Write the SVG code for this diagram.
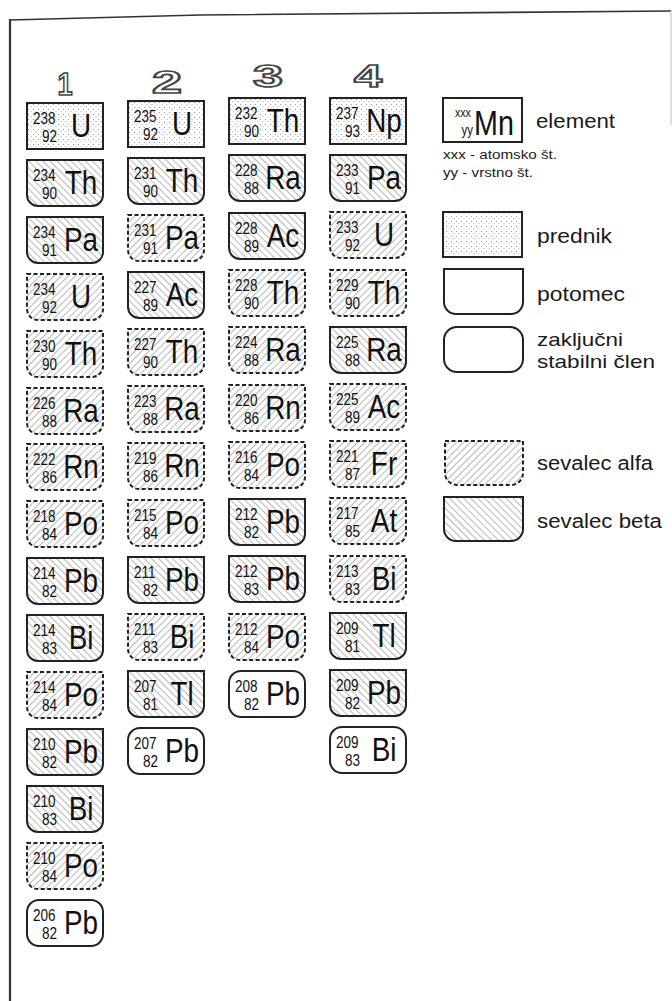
<svg xmlns="http://www.w3.org/2000/svg" width="672" height="1001" viewBox="0 0 672 1001">
<defs>
<pattern id="stip" width="5" height="5" patternUnits="userSpaceOnUse">
<rect width="5" height="5" fill="#fff"/>
<rect x="1" y="1" width="1" height="1" fill="#9a9a9a"/>
<rect x="3.5" y="3" width="1" height="1" fill="#b5b5b5"/>
</pattern>
<pattern id="ha" width="5" height="5" patternUnits="userSpaceOnUse" patternTransform="rotate(45)">
<rect width="5" height="5" fill="#fff"/>
<rect x="0" y="0" width="0.8" height="5" fill="#a8a8a8"/>
</pattern>
<pattern id="hb" width="5" height="5" patternUnits="userSpaceOnUse" patternTransform="rotate(-45)">
<rect width="5" height="5" fill="#fff"/>
<rect x="0" y="0" width="0.8" height="5" fill="#a8a8a8"/>
</pattern>
<path id="pot" d="M0 0H76V35A11 11 0 0 1 65 46H11A11 11 0 0 1 0 35Z"/>
<rect id="box" width="76" height="46"/>
<rect id="stb" width="76" height="46" rx="12" ry="12"/>
</defs>
<style>
.pred{fill:url(#stip);stroke:#222;stroke-width:2}
.alpha{fill:url(#ha);stroke:#222;stroke-width:2;stroke-dasharray:4 2.5}
.beta{fill:url(#hb);stroke:#222;stroke-width:2}
.stab{fill:#fff;stroke:#222;stroke-width:2}
.plain{fill:#fff;stroke:#222;stroke-width:2}
text{font-family:"Liberation Sans",Arial,sans-serif;fill:#111}
.m{font-size:16.5px}
.z{font-size:16.5px;text-anchor:end}
.s{font-size:34px;text-anchor:middle}
.lg{font-size:20px;fill:#1a1a1a}
.lg2{font-size:19px;fill:#1a1a1a}
.sm{font-size:12px;fill:#1a1a1a}
.hd{font-weight:bold;font-size:32px;fill:#fff;stroke:#444;stroke-width:1.7;text-anchor:middle}
</style>
<rect width="672" height="1001" fill="#fff"/>
<g id="frame" fill="none">
<polyline points="10,20 200,15 671,11" stroke="#333" stroke-width="1.6"/>
<line x1="10" y1="19" x2="10" y2="1001" stroke="#333" stroke-width="2.2"/>
<line x1="671" y1="11" x2="671" y2="125" stroke="#bbb" stroke-width="1"/>
</g>
<g id="headers">
<text class="hd" x="65" y="95" textLength="15" lengthAdjust="spacingAndGlyphs">1</text>
<text class="hd" x="167" y="93" textLength="30" lengthAdjust="spacingAndGlyphs">2</text>
<text class="hd" x="268" y="87" textLength="30" lengthAdjust="spacingAndGlyphs">3</text>
<text class="hd" x="368" y="87" textLength="28" lengthAdjust="spacingAndGlyphs">4</text>
</g>
<g id="connectors"></g>
<!-- Column 1 -->
<g id="c1-U238" transform="translate(27,103)"><use href="#box" class="pred"/><g transform="scale(.82,1)"><text class="m" x="7.3" y="21">238</text><text class="z" x="36.6" y="39.5">92</text><text class="s" x="65.9" y="34">U</text></g></g>
<g id="c1-Th234" transform="translate(27,160)"><use href="#pot" class="beta"/><g transform="scale(.82,1)"><text class="m" x="7.3" y="21">234</text><text class="z" x="36.6" y="39.5">90</text><text class="s" x="65.9" y="34">Th</text></g></g>
<g id="c1-Pa234" transform="translate(27,217)"><use href="#pot" class="beta"/><g transform="scale(.82,1)"><text class="m" x="7.3" y="21">234</text><text class="z" x="36.6" y="39.5">91</text><text class="s" x="65.9" y="34">Pa</text></g></g>
<g id="c1-U234" transform="translate(27,274)"><use href="#pot" class="alpha"/><g transform="scale(.82,1)"><text class="m" x="7.3" y="21">234</text><text class="z" x="36.6" y="39.5">92</text><text class="s" x="65.9" y="34">U</text></g></g>
<g id="c1-Th230" transform="translate(27,331)"><use href="#pot" class="alpha"/><g transform="scale(.82,1)"><text class="m" x="7.3" y="21">230</text><text class="z" x="36.6" y="39.5">90</text><text class="s" x="65.9" y="34">Th</text></g></g>
<g id="c1-Ra226" transform="translate(27,388)"><use href="#pot" class="alpha"/><g transform="scale(.82,1)"><text class="m" x="7.3" y="21">226</text><text class="z" x="36.6" y="39.5">88</text><text class="s" x="65.9" y="34">Ra</text></g></g>
<g id="c1-Rn222" transform="translate(27,444)"><use href="#pot" class="alpha"/><g transform="scale(.82,1)"><text class="m" x="7.3" y="21">222</text><text class="z" x="36.6" y="39.5">86</text><text class="s" x="65.9" y="34">Rn</text></g></g>
<g id="c1-Po218" transform="translate(27,501)"><use href="#pot" class="alpha"/><g transform="scale(.82,1)"><text class="m" x="7.3" y="21">218</text><text class="z" x="36.6" y="39.5">84</text><text class="s" x="65.9" y="34">Po</text></g></g>
<g id="c1-Pb214" transform="translate(27,558)"><use href="#pot" class="beta"/><g transform="scale(.82,1)"><text class="m" x="7.3" y="21">214</text><text class="z" x="36.6" y="39.5">82</text><text class="s" x="65.9" y="34">Pb</text></g></g>
<g id="c1-Bi214" transform="translate(27,615)"><use href="#pot" class="beta"/><g transform="scale(.82,1)"><text class="m" x="7.3" y="21">214</text><text class="z" x="36.6" y="39.5">83</text><text class="s" x="65.9" y="34">Bi</text></g></g>
<g id="c1-Po214" transform="translate(27,672)"><use href="#pot" class="alpha"/><g transform="scale(.82,1)"><text class="m" x="7.3" y="21">214</text><text class="z" x="36.6" y="39.5">84</text><text class="s" x="65.9" y="34">Po</text></g></g>
<g id="c1-Pb210" transform="translate(27,729)"><use href="#pot" class="beta"/><g transform="scale(.82,1)"><text class="m" x="7.3" y="21">210</text><text class="z" x="36.6" y="39.5">82</text><text class="s" x="65.9" y="34">Pb</text></g></g>
<g id="c1-Bi210" transform="translate(27,786)"><use href="#pot" class="beta"/><g transform="scale(.82,1)"><text class="m" x="7.3" y="21">210</text><text class="z" x="36.6" y="39.5">83</text><text class="s" x="65.9" y="34">Bi</text></g></g>
<g id="c1-Po210" transform="translate(27,843)"><use href="#pot" class="alpha"/><g transform="scale(.82,1)"><text class="m" x="7.3" y="21">210</text><text class="z" x="36.6" y="39.5">84</text><text class="s" x="65.9" y="34">Po</text></g></g>
<g id="c1-Pb206" transform="translate(27,900)"><use href="#stb" class="stab"/><g transform="scale(.82,1)"><text class="m" x="7.3" y="21">206</text><text class="z" x="36.6" y="39.5">82</text><text class="s" x="65.9" y="34">Pb</text></g></g>
<!-- Column 2 -->
<g id="c2-U235" transform="translate(128,101)"><use href="#box" class="pred"/><g transform="scale(.82,1)"><text class="m" x="7.3" y="21">235</text><text class="z" x="36.6" y="39.5">92</text><text class="s" x="65.9" y="34">U</text></g></g>
<g id="c2-Th231" transform="translate(128,158)"><use href="#pot" class="beta"/><g transform="scale(.82,1)"><text class="m" x="7.3" y="21">231</text><text class="z" x="36.6" y="39.5">90</text><text class="s" x="65.9" y="34">Th</text></g></g>
<g id="c2-Pa231" transform="translate(128,215)"><use href="#pot" class="alpha"/><g transform="scale(.82,1)"><text class="m" x="7.3" y="21">231</text><text class="z" x="36.6" y="39.5">91</text><text class="s" x="65.9" y="34">Pa</text></g></g>
<g id="c2-Ac227" transform="translate(128,272)"><use href="#pot" class="beta"/><g transform="scale(.82,1)"><text class="m" x="7.3" y="21">227</text><text class="z" x="36.6" y="39.5">89</text><text class="s" x="65.9" y="34">Ac</text></g></g>
<g id="c2-Th227" transform="translate(128,329)"><use href="#pot" class="alpha"/><g transform="scale(.82,1)"><text class="m" x="7.3" y="21">227</text><text class="z" x="36.6" y="39.5">90</text><text class="s" x="65.9" y="34">Th</text></g></g>
<g id="c2-Ra223" transform="translate(128,386)"><use href="#pot" class="alpha"/><g transform="scale(.82,1)"><text class="m" x="7.3" y="21">223</text><text class="z" x="36.6" y="39.5">88</text><text class="s" x="65.9" y="34">Ra</text></g></g>
<g id="c2-Rn219" transform="translate(128,443)"><use href="#pot" class="alpha"/><g transform="scale(.82,1)"><text class="m" x="7.3" y="21">219</text><text class="z" x="36.6" y="39.5">86</text><text class="s" x="65.9" y="34">Rn</text></g></g>
<g id="c2-Po215" transform="translate(128,500)"><use href="#pot" class="alpha"/><g transform="scale(.82,1)"><text class="m" x="7.3" y="21">215</text><text class="z" x="36.6" y="39.5">84</text><text class="s" x="65.9" y="34">Po</text></g></g>
<g id="c2-Pb211" transform="translate(128,557)"><use href="#pot" class="beta"/><g transform="scale(.82,1)"><text class="m" x="7.3" y="21">211</text><text class="z" x="36.6" y="39.5">82</text><text class="s" x="65.9" y="34">Pb</text></g></g>
<g id="c2-Bi211" transform="translate(128,614)"><use href="#pot" class="alpha"/><g transform="scale(.82,1)"><text class="m" x="7.3" y="21">211</text><text class="z" x="36.6" y="39.5">83</text><text class="s" x="65.9" y="34">Bi</text></g></g>
<g id="c2-Tl207" transform="translate(128,671)"><use href="#pot" class="beta"/><g transform="scale(.82,1)"><text class="m" x="7.3" y="21">207</text><text class="z" x="36.6" y="39.5">81</text><text class="s" x="65.9" y="34">Tl</text></g></g>
<g id="c2-Pb207" transform="translate(128,728)"><use href="#stb" class="stab"/><g transform="scale(.82,1)"><text class="m" x="7.3" y="21">207</text><text class="z" x="36.6" y="39.5">82</text><text class="s" x="65.9" y="34">Pb</text></g></g>
<!-- Column 3 -->
<g id="c3-Th232" transform="translate(229,98)"><use href="#box" class="pred"/><g transform="scale(.82,1)"><text class="m" x="7.3" y="21">232</text><text class="z" x="36.6" y="39.5">90</text><text class="s" x="65.9" y="34">Th</text></g></g>
<g id="c3-Ra228" transform="translate(229,155)"><use href="#pot" class="beta"/><g transform="scale(.82,1)"><text class="m" x="7.3" y="21">228</text><text class="z" x="36.6" y="39.5">88</text><text class="s" x="65.9" y="34">Ra</text></g></g>
<g id="c3-Ac228" transform="translate(229,213)"><use href="#pot" class="beta"/><g transform="scale(.82,1)"><text class="m" x="7.3" y="21">228</text><text class="z" x="36.6" y="39.5">89</text><text class="s" x="65.9" y="34">Ac</text></g></g>
<g id="c3-Th228" transform="translate(229,270)"><use href="#pot" class="alpha"/><g transform="scale(.82,1)"><text class="m" x="7.3" y="21">228</text><text class="z" x="36.6" y="39.5">90</text><text class="s" x="65.9" y="34">Th</text></g></g>
<g id="c3-Ra224" transform="translate(229,327)"><use href="#pot" class="alpha"/><g transform="scale(.82,1)"><text class="m" x="7.3" y="21">224</text><text class="z" x="36.6" y="39.5">88</text><text class="s" x="65.9" y="34">Ra</text></g></g>
<g id="c3-Rn220" transform="translate(229,385)"><use href="#pot" class="alpha"/><g transform="scale(.82,1)"><text class="m" x="7.3" y="21">220</text><text class="z" x="36.6" y="39.5">86</text><text class="s" x="65.9" y="34">Rn</text></g></g>
<g id="c3-Po216" transform="translate(229,442)"><use href="#pot" class="alpha"/><g transform="scale(.82,1)"><text class="m" x="7.3" y="21">216</text><text class="z" x="36.6" y="39.5">84</text><text class="s" x="65.9" y="34">Po</text></g></g>
<g id="c3-Pb212" transform="translate(229,499)"><use href="#pot" class="beta"/><g transform="scale(.82,1)"><text class="m" x="7.3" y="21">212</text><text class="z" x="36.6" y="39.5">82</text><text class="s" x="65.9" y="34">Pb</text></g></g>
<g id="c3-Pb212b" transform="translate(229,556)"><use href="#pot" class="beta"/><g transform="scale(.82,1)"><text class="m" x="7.3" y="21">212</text><text class="z" x="36.6" y="39.5">83</text><text class="s" x="65.9" y="34">Pb</text></g></g>
<g id="c3-Po212" transform="translate(229,614)"><use href="#pot" class="alpha"/><g transform="scale(.82,1)"><text class="m" x="7.3" y="21">212</text><text class="z" x="36.6" y="39.5">84</text><text class="s" x="65.9" y="34">Po</text></g></g>
<g id="c3-Pb208" transform="translate(229,671)"><use href="#stb" class="stab"/><g transform="scale(.82,1)"><text class="m" x="7.3" y="21">208</text><text class="z" x="36.6" y="39.5">82</text><text class="s" x="65.9" y="34">Pb</text></g></g>
<!-- Column 4 -->
<g id="c4-Np237" transform="translate(330,98)"><use href="#box" class="pred"/><g transform="scale(.82,1)"><text class="m" x="7.3" y="21">237</text><text class="z" x="36.6" y="39.5">93</text><text class="s" x="65.9" y="34">Np</text></g></g>
<g id="c4-Pa233" transform="translate(330,155)"><use href="#pot" class="beta"/><g transform="scale(.82,1)"><text class="m" x="7.3" y="21">233</text><text class="z" x="36.6" y="39.5">91</text><text class="s" x="65.9" y="34">Pa</text></g></g>
<g id="c4-U233" transform="translate(330,212)"><use href="#pot" class="alpha"/><g transform="scale(.82,1)"><text class="m" x="7.3" y="21">233</text><text class="z" x="36.6" y="39.5">92</text><text class="s" x="65.9" y="34">U</text></g></g>
<g id="c4-Th229" transform="translate(330,270)"><use href="#pot" class="alpha"/><g transform="scale(.82,1)"><text class="m" x="7.3" y="21">229</text><text class="z" x="36.6" y="39.5">90</text><text class="s" x="65.9" y="34">Th</text></g></g>
<g id="c4-Ra225" transform="translate(330,327)"><use href="#pot" class="beta"/><g transform="scale(.82,1)"><text class="m" x="7.3" y="21">225</text><text class="z" x="36.6" y="39.5">88</text><text class="s" x="65.9" y="34">Ra</text></g></g>
<g id="c4-Ac225" transform="translate(330,384)"><use href="#pot" class="alpha"/><g transform="scale(.82,1)"><text class="m" x="7.3" y="21">225</text><text class="z" x="36.6" y="39.5">89</text><text class="s" x="65.9" y="34">Ac</text></g></g>
<g id="c4-Fr221" transform="translate(330,441)"><use href="#pot" class="alpha"/><g transform="scale(.82,1)"><text class="m" x="7.3" y="21">221</text><text class="z" x="36.6" y="39.5">87</text><text class="s" x="65.9" y="34">Fr</text></g></g>
<g id="c4-At217" transform="translate(330,498)"><use href="#pot" class="alpha"/><g transform="scale(.82,1)"><text class="m" x="7.3" y="21">217</text><text class="z" x="36.6" y="39.5">85</text><text class="s" x="65.9" y="34">At</text></g></g>
<g id="c4-Bi213" transform="translate(330,556)"><use href="#pot" class="alpha"/><g transform="scale(.82,1)"><text class="m" x="7.3" y="21">213</text><text class="z" x="36.6" y="39.5">83</text><text class="s" x="65.9" y="34">Bi</text></g></g>
<g id="c4-Tl209" transform="translate(330,613)"><use href="#pot" class="beta"/><g transform="scale(.82,1)"><text class="m" x="7.3" y="21">209</text><text class="z" x="36.6" y="39.5">81</text><text class="s" x="65.9" y="34">Tl</text></g></g>
<g id="c4-Pb209" transform="translate(330,670)"><use href="#pot" class="beta"/><g transform="scale(.82,1)"><text class="m" x="7.3" y="21">209</text><text class="z" x="36.6" y="39.5">82</text><text class="s" x="65.9" y="34">Pb</text></g></g>
<g id="c4-Bi209" transform="translate(330,727)"><use href="#stb" class="stab"/><g transform="scale(.82,1)"><text class="m" x="7.3" y="21">209</text><text class="z" x="36.6" y="39.5">83</text><text class="s" x="65.9" y="34">Bi</text></g></g>
<!-- Legend -->
<g id="leg-element">
<rect x="443" y="98" width="79" height="44" class="plain"/>
<g transform="translate(443,98) scale(.82,1)">
<text x="14.6" y="19" style="font-size:13px">xxx</text>
<text x="36.6" y="37" style="font-size:14px;text-anchor:end">yy</text>
<text x="37.8" y="37" style="font-size:35px">Mn</text>
</g>
<text class="lg" x="536" y="128" textLength="79" lengthAdjust="spacingAndGlyphs">element</text>
<text class="sm" x="443" y="159" textLength="114" lengthAdjust="spacingAndGlyphs">xxx - atomsko št.</text>
<text class="sm" x="443" y="177" textLength="90" lengthAdjust="spacingAndGlyphs">yy - vrstno št.</text>
</g>
<g id="leg-prednik">
<rect x="443" y="212" width="79" height="45" class="pred"/>
<text class="lg" x="537" y="243" textLength="75" lengthAdjust="spacingAndGlyphs">prednik</text>
</g>
<g id="leg-potomec">
<path d="M444 269H523V302A12 12 0 0 1 511 314H456A12 12 0 0 1 444 302Z" class="plain"/>
<text class="lg" x="537" y="301" textLength="88" lengthAdjust="spacingAndGlyphs">potomec</text>
</g>
<g id="leg-stabilni">
<rect x="444" y="327" width="79" height="45" rx="13" ry="13" class="stab"/>
<text class="lg2" x="537" y="346" textLength="86" lengthAdjust="spacingAndGlyphs">zaključni</text>
<text class="lg2" x="537" y="368" textLength="118" lengthAdjust="spacingAndGlyphs">stabilni člen</text>
</g>
<g id="leg-alfa">
<path d="M445 441H523V473A12 12 0 0 1 511 485H457A12 12 0 0 1 445 473Z" class="alpha"/>
<text class="lg" x="537" y="470" textLength="116" lengthAdjust="spacingAndGlyphs">sevalec alfa</text>
</g>
<g id="leg-beta">
<path d="M444 497H523V529A12 12 0 0 1 511 541H456A12 12 0 0 1 444 529Z" class="beta"/>
<text class="lg" x="537" y="528" textLength="125" lengthAdjust="spacingAndGlyphs">sevalec beta</text>
</g>
</svg>
